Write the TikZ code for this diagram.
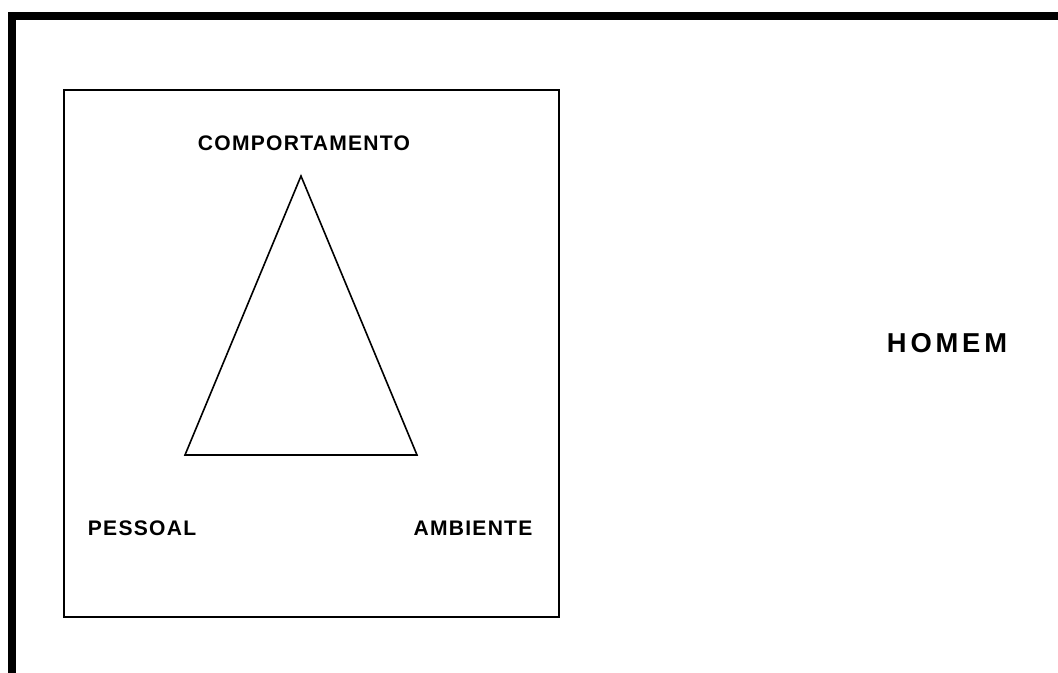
\documentclass[tikz,border=0pt]{standalone}
\usepackage{fontspec}
\setmainfont{Liberation Sans}
\newfontfamily\labfont[LetterSpace=6]{Liberation Sans Bold}
\newfontfamily\bigfont[LetterSpace=14]{Liberation Sans Bold}
\begin{document}
\begin{tikzpicture}[x=0.75pt,y=-0.75pt,
  lab/.style={inner sep=0pt,font=\labfont\fontsize{15.8pt}{18pt}\selectfont},
  biglab/.style={inner sep=0pt,font=\bigfont\fontsize{20.5pt}{22pt}\selectfont},
  thin/.style={line width=1.2pt,line join=miter}]
\useasboundingbox (0,0) rectangle (1058,673);
\begin{scope}
\clip (0,0) rectangle (1058,673);
\draw[line width=6pt] (12,16) rectangle (1080,700);
\end{scope}
\draw[thin] (64,90) rectangle (559,617);
\coordinate (top) at (301,176);
\coordinate (bl) at (185,455);
\coordinate (br) at (417,455);
\draw[thin] (top) -- (bl) -- (br) -- cycle;
\node[lab] (comp) at (304,143) {COMPORTAMENTO};
\node[lab] (pess) at (142,528) {PESSOAL};
\node[lab] (amb) at (473,528) {AMBIENTE};
\node[biglab] (homem) at (947,343) {HOMEM};
\end{tikzpicture}
\end{document}
